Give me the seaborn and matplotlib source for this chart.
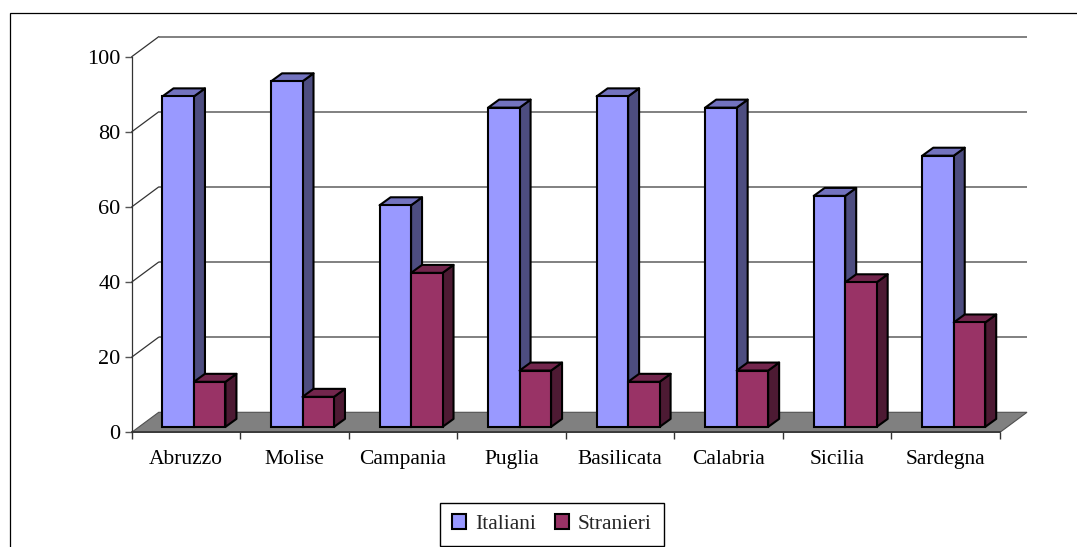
#!/usr/bin/env python3
# Barre finte 3D: la faccia frontale la fa seaborn, fianco e tetto li ricavo dalle barre.

import pandas as pd
import matplotlib
matplotlib.use('Agg')
import matplotlib.pyplot as plt
from matplotlib.patches import Polygon, Rectangle
import seaborn as sns

regioni = ['Abruzzo', 'Molise', 'Campania', 'Puglia', 'Basilicata', 'Calabria', 'Sicilia', 'Sardegna']
italiani = [88, 92, 59, 85, 88, 85, 61.5, 72.2]
stranieri = [12, 8, 41, 15, 12, 15, 38.5, 27.8]
tacche_y = [0, 20, 40, 60, 80, 100]

W, H = 1077, 547
sns.set_style('white')
plt.rcParams['font.family'] = ['Liberation Serif', 'DejaVu Serif']

df = pd.DataFrame({
    'Regione': regioni * 2,
    'Valore': italiani + stranieri,
    'Serie': ['Italiani'] * len(regioni) + ['Stranieri'] * len(regioni),
})

fig = plt.figure(figsize=(W / 100, H / 100), dpi=100)

# Riquadri in pixel del riferimento
sx, dx_ax, sy, dy_ax = 131.7, 868.3, 56.7, 375.6
ax = fig.add_axes([sx / W, 1 - (sy + dy_ax) / H, dx_ax / W, dy_ax / H])
ax.patch.set_alpha(0)

sns.barplot(data=df, x='Regione', y='Valore', hue='Serie', ax=ax, width=0.58, gap=0,
            palette={'Italiani': '#9999FF', 'Stranieri': '#993366'},
            edgecolor='black', linewidth=1.5, saturation=1, legend=True)

ax.set_xlim(-0.5, len(regioni) - 0.5)
ax.set_ylim(0, 100)

# Da pixel a unità dei dati
px_x = (len(regioni)) / dx_ax
px_y = 100 / dy_ax

# Pavimento e parete di fondo
prof_x, prof_y = 27 * px_x, 20 * px_y
x0, x1 = ax.get_xlim()
ax.add_patch(Polygon([(x0, 0), (x1, 0), (x1 + prof_x, prof_y), (x0 + prof_x, prof_y)],
                     closed=True, facecolor='#808080', edgecolor='#505050', linewidth=0.8,
                     clip_on=False, zorder=1))
for t in tacche_y[1:]:
    ax.plot([x0 + prof_x, x1 + prof_x], [t + prof_y, t + prof_y], color='#808080', lw=1.4,
            clip_on=False, zorder=1, solid_capstyle='butt')
    ax.plot([x0, x0 + prof_x], [t, t + prof_y], color='#333333', lw=0.9, clip_on=False, zorder=1)

# Colori di fianco e tetto per ogni serie
fianchi = {'Italiani': '#4D4D80', 'Stranieri': '#4D1A33'}
tetti = {'Italiani': '#7373BF', 'Stranieri': '#73264D'}

sposta_x, sposta_y = 8.0 * px_x, 5.4 * px_y
barra_x, barra_y = 11 * px_x, 8 * px_y

serie = ['Italiani', 'Stranieri']
for i, cont in enumerate(ax.containers):
    nome = serie[i]
    for barra in cont:
        barra.set_x(barra.get_x() + sposta_x)
        barra.set_y(sposta_y)
        barra.set_zorder(3 + 2 * i)
        barra.set_clip_on(False)
        xa, xb = barra.get_x(), barra.get_x() + barra.get_width()
        ya, yb = barra.get_y(), barra.get_y() + barra.get_height()
        fianco = [(xb, ya), (xb + barra_x, ya + barra_y), (xb + barra_x, yb + barra_y), (xb, yb)]
        tetto = [(xa, yb), (xb, yb), (xb + barra_x, yb + barra_y), (xa + barra_x, yb + barra_y)]
        for punti, colori in ((fianco, fianchi), (tetto, tetti)):
            ax.add_patch(Polygon(punti, closed=True, facecolor=colori[nome], edgecolor='black',
                                 linewidth=1.5, joinstyle='round', clip_on=False, zorder=2 + 2 * i))

# Assi
sns.despine(ax=ax)
ax.spines['left'].set_color('#333333')
ax.spines['left'].set_linewidth(0.9)
ax.spines['bottom'].set_color('#333333')
ax.spines['bottom'].set_linewidth(1.2)
ax.spines['left'].set_zorder(2)
ax.spines['bottom'].set_zorder(2)
ax.set_xlabel('')
ax.set_ylabel('')
ax.set_yticks(tacche_y)
ax.set_xticks([i - 0.5 for i in range(len(regioni) + 1)])
ax.set_xticklabels([])
ax.set_xticks(range(len(regioni)), labels=regioni, minor=True)
ax.tick_params(axis='y', which='major', left=True, length=5, width=1, color='#555555',
               labelsize=16, pad=3, labelcolor='black')
ax.tick_params(axis='x', which='major', bottom=True, length=5, width=1, color='#333333')
ax.tick_params(axis='x', which='minor', bottom=False, labelsize=15.5, pad=11, labelcolor='black')

# Legenda
maniglie, etichette = ax.get_legend_handles_labels()
leg = ax.legend(maniglie, etichette, ncol=2, loc='center',
                bbox_to_anchor=(552 / W, 1 - 524.3 / H), bbox_transform=fig.transFigure,
                frameon=True, fancybox=False, framealpha=1, edgecolor='black', fontsize=15.5,
                handlelength=0.65, handleheight=0.65, handletextpad=0.4, columnspacing=0.9,
                borderpad=0.55, borderaxespad=0)
leg.get_frame().set_linewidth(1)

# Cornice esterna, tagliata a destra e in basso come nell'originale
fig.add_artist(Rectangle((10.0 / W, -0.05), 1.1, 1.05 - 13.0 / H, transform=fig.transFigure,
                         facecolor='none', edgecolor='black', linewidth=0.9))

fig.savefig('out.png', dpi=100)
